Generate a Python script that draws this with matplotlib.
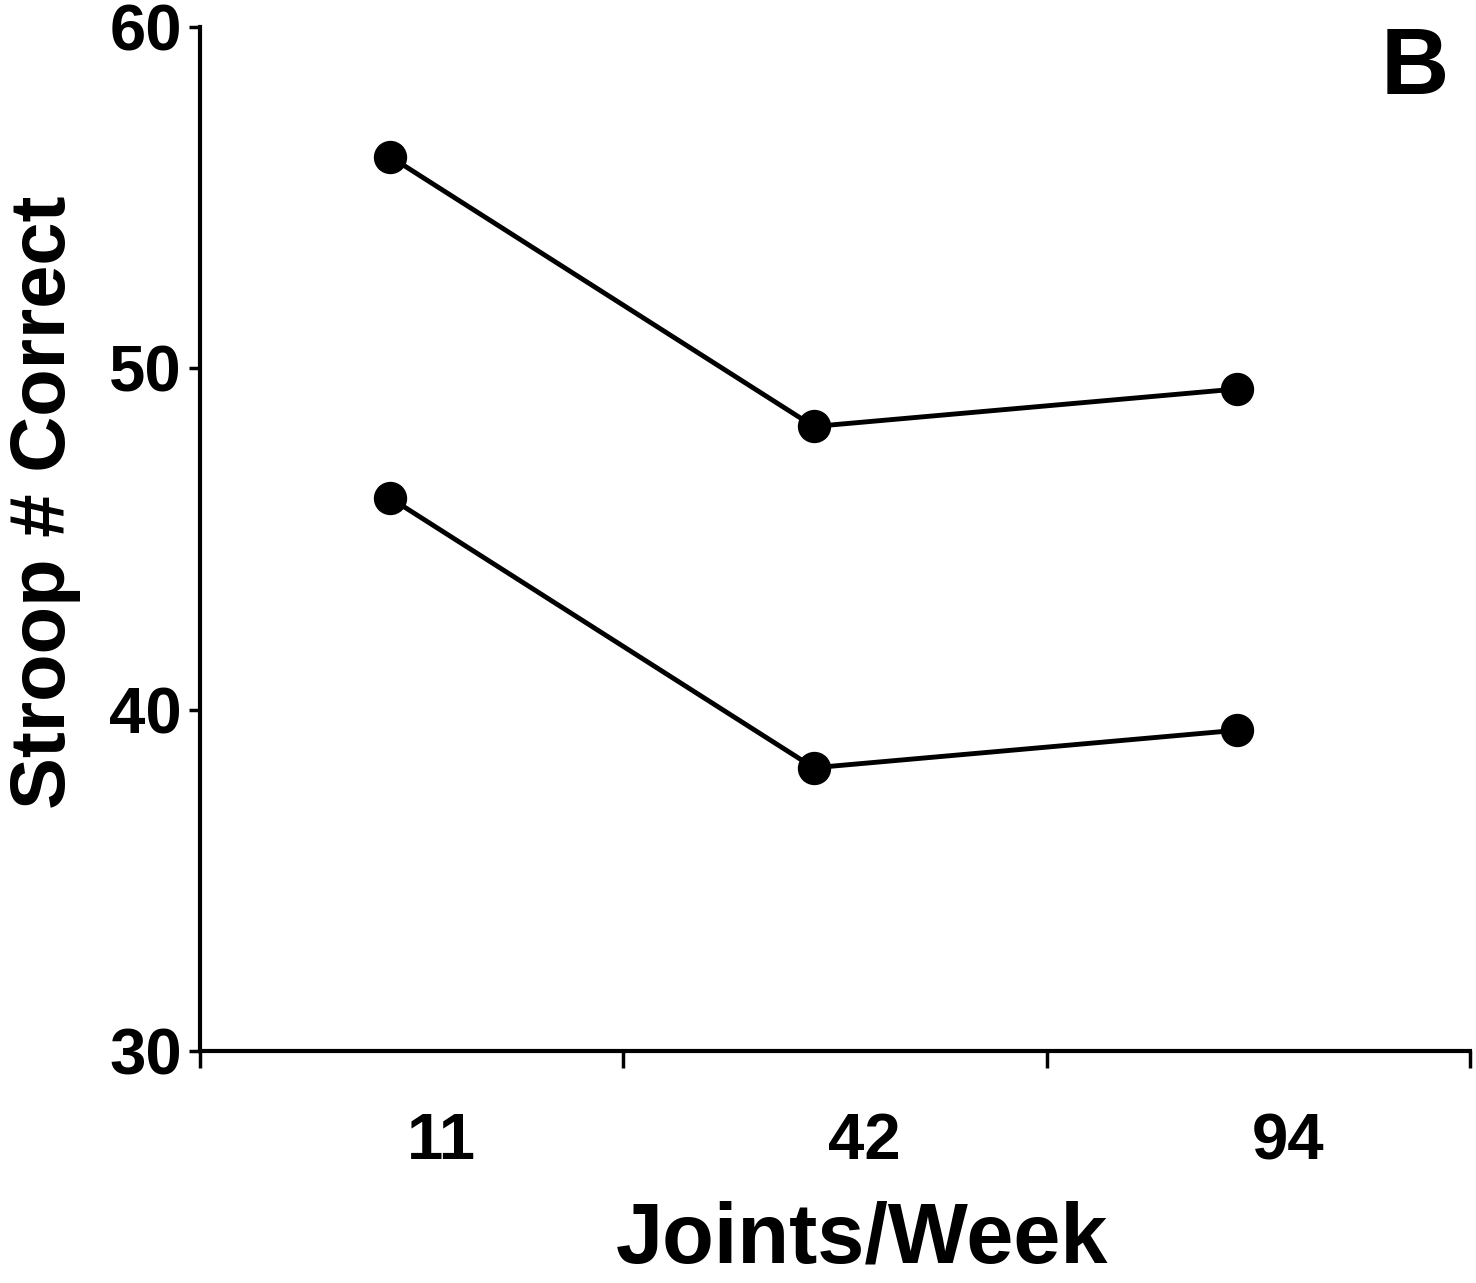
import numpy as np
import matplotlib
matplotlib.use("Agg")
import matplotlib.pyplot as plt

plt.rcParams["font.family"] = ["Liberation Sans", "DejaVu Sans"]
plt.rcParams["font.weight"] = "bold"

# data
joints = ["11", "42", "94"]
stroop_upper = [56.2, 48.3, 49.4]
stroop_lower = [46.2, 38.3, 39.4]
y_ticks = [30, 40, 50, 60]

fig = plt.figure(figsize=(14.76, 12.83), dpi=100)
ax = fig.add_axes([0.1355, 0.1808, 0.8604, 0.798])

pos = np.arange(len(joints)) + 0.45
for series in (stroop_upper, stroop_lower):
    ax.plot(pos, series, color="black", lw=3.5, marker="o", ms=23,
            markerfacecolor="black", markeredgecolor="black", clip_on=False)

ax.set_xlim(0, 3)
ax.set_ylim(30, 60)
ax.set_yticks(y_ticks)
ax.set_yticklabels([str(t) for t in y_ticks], fontsize=47, fontweight="bold")
ax.tick_params(axis="y", direction="out", length=8, width=2.5, pad=5)

# major ticks mark group boundaries, minor ticks carry the labels
ax.set_xticks([0, 1, 2, 3])
ax.set_xticklabels([])
ax.tick_params(axis="x", which="major", direction="out", length=12, width=2.5)
ax.set_xticks(np.arange(len(joints)) + 0.57, minor=True)
ax.set_xticklabels(joints, minor=True, fontsize=47, fontweight="bold")
ax.tick_params(axis="x", which="minor", length=0, pad=44)

for side in ("top", "right"):
    ax.spines[side].set_visible(False)
for side in ("left", "bottom"):
    ax.spines[side].set_linewidth(3)

fig.text(45 / 1476, 1 - 502 / 1283, "Stroop # Correct", rotation=90,
         ha="center", va="center", fontsize=56, fontweight="bold")
fig.text(862 / 1476, 1 - 1240 / 1283, "Joints/Week",
         ha="center", va="center", fontsize=61, fontweight="bold")
fig.text(1415 / 1476, 1 - 70 / 1283, "B",
         ha="center", va="center", fontsize=68, fontweight="bold")

fig.savefig("out.png", dpi=100, facecolor="white")
